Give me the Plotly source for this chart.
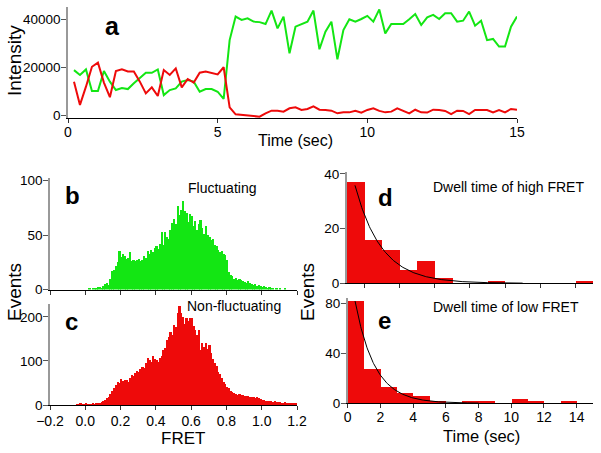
import plotly.graph_objects as go
import numpy as np

# ---------------- data ----------------
frame_step_s = 0.2
donor_intensity = [
    18700, 16700, 19000, 10000, 10000, 18300, 13900, 10400, 11200, 10800,
    13200, 15300, 17600, 17600, 19000, 8300, 10400, 11100, 13900, 14600,
    13900, 9700, 10800, 10800, 9700, 6700,
    31200, 41000, 39600, 40300, 38900, 38700, 37900, 43500, 36100, 41000,
    25700, 36800, 37900, 38900, 43500, 27400, 34700, 38900, 23200, 35400,
    39900, 38900, 40000, 41300, 38900,
    44000, 34000, 37900, 37900, 37900, 39900, 42100, 37500, 40700, 41700,
    40000, 42400, 42400, 38900, 39300, 43100, 37200, 39300, 31200, 31700,
    28500, 28500, 36800, 41000,
]
acceptor_intensity = [
    13900, 4200, 11800, 20100, 21800, 13500, 7400, 18300, 19000, 18100,
    18100, 13900, 9000, 11500, 7900, 18750, 16700, 19400, 11500, 15000,
    13500, 17600, 18100, 17600, 16900, 19900,
    3200, 300, 0, -300, -400, -700, 700, 1800, 1800, 1400,
    2800, 3200, 2100, 2500, 3600, 2200, 2100, 1800, 700, 1100,
    1100, 1800, 1000, 2100, 2800,
    1700, 1100, 1400, 2800, 1800, 700, 2200, 1100, 1000, 2200,
    2100, 1700, 400, 1800, 1700, 400, 2100, 2100, 2100, 1100,
    2100, 1100, 2500, 2200,
]
time_s = [round(frame_step_s * (i + 1), 1) for i in range(len(donor_intensity))]

fret_bin_width = 0.01
fluct_first_bin = 0.00
fluct_counts = [
    0, 0, 1, 0, 1,   1, 1, 2, 2, 1,   3, 5, 6, 4, 10,   17, 18, 22, 25, 35,
    30, 33, 31, 28, 29,   34, 26, 27, 26, 27,   28, 26, 27, 31, 29,
    35, 33, 36, 34, 38,   40, 37, 42, 53, 41,   53, 48, 46, 55, 61,
    65, 60, 77, 68, 73,   81, 72, 70, 62, 69,   67, 58, 63, 55, 60,
    64, 56, 51, 58, 50,   48, 45, 46, 41, 40,   36, 34, 35, 33, 32,
    27, 16, 13, 12, 10,   11, 9, 10, 9, 8,   7, 6, 8, 6, 5,
    4, 5, 3, 4, 3,   2, 3, 2, 1, 2,   1, 1, 0, 1, 0,   1, 0, 0, 1, 0,
]
nonfluct_first_bin = -0.05
nonfluct_counts = [
    1, 2, 3, 1, 2,   4, 2, 1, 2, 3,   2, 3, 3, 4, 6,   10, 11, 15, 18, 25,
    32, 38, 45, 53, 50,   58, 55, 57, 56, 52,   62, 68, 65, 72, 78,
    75, 82, 87, 84, 95,   106, 102, 98, 111, 104,   102, 98, 106, 112, 125,
    130, 148, 155, 167, 160,   182, 178, 208, 224, 210,   201, 185, 197, 190, 197,
    197, 180, 170, 160, 170,   125, 140, 132, 140, 128,   136, 118, 105, 95, 88,
    76, 70, 62, 53, 48,   42, 38, 32, 30, 27,   25, 23, 24, 22, 23,
    21, 20, 20, 19, 18,   18, 17, 18, 16, 14,   11, 12, 10, 9, 8,
    8, 7, 8, 6, 7,   6, 5, 5, 6, 5,   4, 5, 4, 4, 3,
]

dwell_bin_left = list(range(14))
high_dwell_counts = [37, 16, 12, 5, 8, 2, 0, 0, 1, 0, 0, 0, 0, 1]
low_dwell_counts = [82, 27, 13, 8, 6, 2, 0, 1, 1, 0, 3, 1, 0, 2]
high_fit_amp, high_fit_tau = 49.0, 1.5
low_fit_amp, low_fit_tau = 119.0, 1.2

GREEN = "#13E613"
RED = "#EE0A0A"
FONT = "Liberation Sans, Arial, Helvetica, sans-serif"
W, H = 601, 453

fig = go.Figure()

# panel a
fig.add_trace(go.Scatter(x=time_s, y=donor_intensity, mode="lines",
                         line=dict(color=GREEN, width=2), xaxis="x", yaxis="y"))
fig.add_trace(go.Scatter(x=time_s, y=acceptor_intensity, mode="lines",
                         line=dict(color=RED, width=2), xaxis="x", yaxis="y"))

# panel b
fx = [fluct_first_bin + fret_bin_width * (i + 0.5) for i in range(len(fluct_counts))]
fig.add_trace(go.Bar(x=fx, y=fluct_counts, width=fret_bin_width,
                     marker=dict(color=GREEN, line=dict(width=0)), xaxis="x2", yaxis="y2"))
# panel c
nx = [nonfluct_first_bin + fret_bin_width * (i + 0.5) for i in range(len(nonfluct_counts))]
fig.add_trace(go.Bar(x=nx, y=nonfluct_counts, width=fret_bin_width,
                     marker=dict(color=RED, line=dict(width=0)), xaxis="x3", yaxis="y3"))

# panel d
dx = [b + 0.5 for b in dwell_bin_left]
fig.add_trace(go.Bar(x=dx, y=high_dwell_counts, width=1,
                     marker=dict(color=RED, line=dict(width=0)), xaxis="x4", yaxis="y4"))
tfit_d = np.linspace(0.47, 10, 200)
fig.add_trace(go.Scatter(x=tfit_d, y=high_fit_amp * np.exp(-tfit_d / high_fit_tau), mode="lines",
                         line=dict(color="black", width=1), xaxis="x4", yaxis="y4"))
# panel e
fig.add_trace(go.Bar(x=dx, y=low_dwell_counts, width=1,
                     marker=dict(color=RED, line=dict(width=0)), xaxis="x5", yaxis="y5"))
tfit_e = np.linspace(0.45, 8, 200)
fig.add_trace(go.Scatter(x=tfit_e, y=low_fit_amp * np.exp(-tfit_e / low_fit_tau), mode="lines",
                         line=dict(color="black", width=1), xaxis="x5", yaxis="y5"))


def px_x(x0, x1):
    return [x0 / W, x1 / W]


def px_y(ybot, ytop):
    return [1 - ybot / H, 1 - ytop / H]


xtick = dict(size=14, family=FONT, color="black")
ytick = dict(size=13.5, family=FONT, color="black")


def xax(dom, rng, dtick, tick0=0, labels=True, fmt=None, anchor="y", standoff=0):
    d = dict(domain=dom, range=rng, dtick=dtick, tick0=tick0, showgrid=False, zeroline=False,
             showline=True, linecolor="black", linewidth=1, ticks="outside", ticklen=4,
             tickcolor="#333", tickfont=xtick, showticklabels=labels, anchor=anchor,
             automargin=False, ticklabelstandoff=standoff)
    if fmt:
        d["tickformat"] = fmt
    return d


def yax(dom, rng, dtick, anchor="x", fmt=None):
    d = dict(domain=dom, range=rng, dtick=dtick, showgrid=False, zeroline=False,
             showline=True, linecolor="#999", linewidth=1.5, ticks="outside", ticklen=5,
             tickcolor="#555", tickfont=ytick, anchor=anchor, automargin=False,
             ticklabelstandoff=-2)
    if fmt:
        d["tickformat"] = fmt
    return d


fig.update_layout(
    width=W, height=H, margin=dict(l=0, r=0, t=0, b=0, autoexpand=False),
    paper_bgcolor="white", plot_bgcolor="white", showlegend=False, bargap=0,
    font=dict(family=FONT, color="black"),
    xaxis=xax(px_x(68, 517), [0, 15], 5, anchor="y", standoff=-3),
    yaxis=yax(px_y(118, 7), [-1250, 45000], 20000, anchor="x", fmt="d"),
    xaxis2=xax(px_x(50, 297), [-0.2, 1.2], 0.2, tick0=0, labels=False, anchor="y2"),
    yaxis2=yax(px_y(289.5, 178), [0, 102.3], 50, anchor="x2"),
    xaxis3=xax(px_x(50, 297), [-0.2, 1.2], 0.2, tick0=0, fmt=".1f", anchor="y3", standoff=-1),
    yaxis3=yax(px_y(405, 304), [0, 229.5], 100, anchor="x3"),
    xaxis4=xax(px_x(346.7, 593), [0, 14], 2, tick0=1, labels=False, anchor="y4"),
    yaxis4=yax(px_y(283.3, 172), [0, 40.7], 20, anchor="x4"),
    xaxis5=xax(px_x(347.7, 593), [0, 15], 2, tick0=0, anchor="y5", standoff=-3),
    yaxis5=yax(px_y(403.3, 298.3), [0, 84], 40, anchor="x5"),
)


def ann(text, x, y, size, bold=False, angle=0):
    fig.add_annotation(text=f"<b>{text}</b>" if bold else text, x=x / W, y=1 - y / H,
                       xref="paper", yref="paper", showarrow=False, textangle=angle,
                       xanchor="center", yanchor="middle",
                       font=dict(size=size, family=FONT, color="black"))


ann("a", 112, 26, 25, bold=True)
ann("b", 72, 195, 24, bold=True)
ann("c", 71.5, 321, 24, bold=True)
ann("d", 385, 197, 24, bold=True)
ann("e", 384.5, 320, 24, bold=True)
ann("Fluctuating", 221.5, 188, 14)
ann("Non-fluctuating", 233.5, 306, 14)
ann("Dwell time of high FRET", 508.5, 186.5, 14)
ann("Dwell time of low FRET", 505.5, 306.5, 14)
ann("Intensity", 14, 61, 19, angle=-90)
ann("Time (sec)", 295, 140, 16)
ann("Events", 14, 292, 19, angle=-90)
ann("FRET", 182.5, 438, 17)
ann("Events", 307, 292, 19, angle=-90)
ann("Time (sec)", 481, 436, 16.5)

fig.write_html(
    "out.html",
    config={"displayModeBar": False},
    post_script="document.body.style.margin='0';document.body.style.padding='0';",
)
